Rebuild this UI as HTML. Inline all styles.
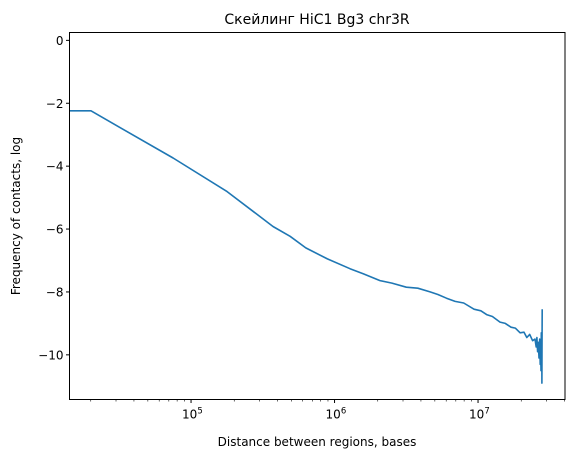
<!DOCTYPE html>
<html><head><meta charset="utf-8">
<style>
body{margin:0;background:#fff;}
svg text{font-family:"DejaVu Sans","Liberation Sans",sans-serif;fill:#000;}
</style></head>
<body>
<svg id="chart" width="574" height="459" xmlns="http://www.w3.org/2000/svg">
<text x="317" y="24" font-size="14" text-anchor="middle">Скейлинг HiC1 Bg3 chr3R</text>
<g id="axes"></g>
<path id="series" fill="none" stroke="#1f77b4" stroke-width="1.6" stroke-linejoin="round"/>
<rect x="69.5" y="32.5" width="495.5" height="367" fill="none" stroke="#000" stroke-width="1"/>
<text x="317" y="446" font-size="12" text-anchor="middle">Distance between regions, bases</text>
<text transform="translate(20,216) rotate(-90)" font-size="12" text-anchor="middle">Frequency of contacts, log</text>
</svg>
<script>
const logDist = [4.153,4.303,4.554,4.875,5.251,5.571,5.690,5.80,5.95,6.108,6.20,6.317,6.40,6.50,6.58,6.666,6.72,6.78,6.84,6.90,6.972,7.02,7.06,7.10,7.153,7.19,7.23,7.26,7.293,7.32,7.34,7.36,7.38,7.397,7.405,7.41,7.415,7.42,7.425,7.43,7.433,7.436,7.439,7.441,7.443,7.444,7.445,7.446,7.447];
const logFreq = [-2.24,-2.24,-2.9,-3.74,-4.81,-5.92,-6.23,-6.6,-6.95,-7.26,-7.42,-7.64,-7.72,-7.85,-7.88,-8.0,-8.08,-8.2,-8.3,-8.35,-8.55,-8.6,-8.72,-8.78,-8.96,-9.0,-9.12,-9.15,-9.3,-9.28,-9.45,-9.35,-9.55,-9.5,-9.75,-9.45,-9.9,-9.6,-10.1,-9.5,-10.3,-9.6,-10.5,-9.3,-10.4,-9.8,-10.9,-9.9,-8.55];
const yTicks = [0,-2,-4,-6,-8,-10];
const xTicks = [5,6,7];

const L=69.5,R=565,T=32.5,B=399.5;
const xMin=4.153,xMax=7.606,yMin=-11.42,yMax=0.25;
function xs(v){return L+(v-xMin)/(xMax-xMin)*(R-L);}
function ys(v){return B-(v-yMin)/(yMax-yMin)*(B-T);}
const NS="http://www.w3.org/2000/svg";
const ax=document.getElementById('axes');
function mk(tag,attrs){const e=document.createElementNS(NS,tag);for(const k in attrs)e.setAttribute(k,attrs[k]);ax.appendChild(e);return e;}
yTicks.forEach(v=>{
  const y=ys(v);
  const t=mk('line',{x1:L-3.5,x2:L,y1:y,y2:y,stroke:'#000'});
  
  
  const l=mk('text',{x:L-6,y:y+4.5,'font-size':12,'text-anchor':'end'});
  l.textContent=v<0?'\u2212'+Math.abs(v):String(v);
  
  
});
for(let d=4;d<=7;d++){for(let m=1;m<10;m++){
  const v=d+Math.log10(m);
  if(v<xMin||v>xMax)continue;
  const x=xs(v);const major=m===1;
  const t=mk('line',{x1:x,x2:x,y1:B,y2:B+(major?3.5:2),stroke:'#000','stroke-width':major?1:0.6});
  
  
}}
xTicks.forEach(v=>{
  const x=xs(v);
  const l=mk('text',{x:x-9,y:B+19,'font-size':12,'text-anchor':'start'});
  l.innerHTML='10<tspan dy="-5" font-size="8.5">'+v+'</tspan>';
  
  
});
let d='';
logDist.forEach((v,i)=>{d+=(i?'L':'M')+xs(v).toFixed(1)+','+ys(logFreq[i]).toFixed(1);});
document.getElementById('series').setAttribute('d',d);
</script>
</body></html>
